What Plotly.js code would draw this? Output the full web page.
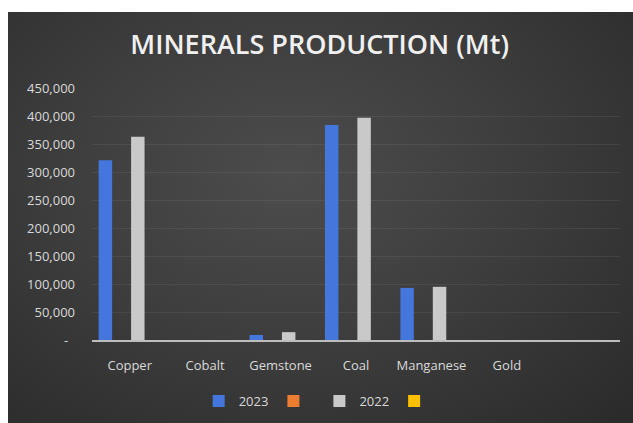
<!DOCTYPE html>
<html>
<head>
<meta charset="utf-8">
<script src="https://cdn.plot.ly/plotly-3.0.1.min.js"></script>
<style>
  html, body { margin: 0; padding: 0; background: #ffffff; }
  #wrap { position: relative; width: 633px; height: 423px; overflow: hidden; }
  #bg { position: absolute; left: 8px; top: 12px; width: 625px; height: 411px;
        background: radial-gradient(ellipse at 45% 40%, #4c4c4c 0%, #3e3e3e 45%, #2a2a2a 100%); }
  #chart { position: absolute; left: 0; top: 0; width: 633px; height: 423px; }
</style>
</head>
<body>
<div id="wrap"><div id="bg"></div><div id="chart"></div></div>
<script>
const categories = ["Copper", "Cobalt", "Gemstone", "Coal", "Manganese", "Gold"];
const series2023 = [321000, null, 9000, 384000, 93000, null];
const seriesOrange = [null, null, null, null, null, null];
const series2022 = [363000, null, 14000, 397000, 95000, null];
const seriesYellow = [null, null, null, null, null, null];
const yTickVals = [0, 50000, 100000, 150000, 200000, 250000, 300000, 350000, 400000, 450000];
const yTickText = ["-\u00a0\u00a0", "50,000", "100,000", "150,000", "200,000", "250,000", "300,000", "350,000", "400,000", "450,000"];

const font = "'Open Sans', 'DejaVu Sans', sans-serif";
const traces = [
  {type: "bar", x: categories, y: series2023, name: "2023", marker: {color: "#4476dc"}},
  {type: "bar", x: categories, y: seriesOrange, name: " ", marker: {color: "#ed7d31"}, legendwidth: 1},
  {type: "bar", x: categories, y: series2022, name: "2022", marker: {color: "#c9c9c9"}},
  {type: "bar", x: categories, y: seriesYellow, name: " ", marker: {color: "#ffc000"}, legendwidth: 1}
];
const layout = {
  width: 633, height: 423,
  paper_bgcolor: "rgba(0,0,0,0)", plot_bgcolor: "rgba(0,0,0,0)",
  margin: {l: 92, r: 13, t: 88, b: 83},
  barmode: "group", bargap: 0.14, bargroupgap: 0.17,
  title: {text: "MINERALS PRODUCTION (Mt)", xref: "container", x: 0.505, xanchor: "center",
          yref: "container", y: 1 - 45/423, yanchor: "middle",
          font: {family: font, size: 27, color: "#f0f0f0", weight: 600}},
  xaxis: {type: "category", range: [-0.5, 6.5], showgrid: false, zeroline: false,
          showline: true, linecolor: "#bdbdbd", linewidth: 2,
          ticks: "", ticklabelstandoff: 12,
          tickfont: {family: font, size: 13, color: "#d9d9d9"}, fixedrange: true},
  yaxis: {range: [0, 450000], tickmode: "array", tickvals: yTickVals, ticktext: yTickText,
          showgrid: true, gridcolor: "rgba(255,255,255,0.07)", gridwidth: 1,
          zeroline: false, showline: false, ticks: "", ticklabelstandoff: 16,
          tickfont: {family: font, size: 13, color: "#d9d9d9"}, fixedrange: true},
  showlegend: true,
  legend: {orientation: "h", x: 0.505, xref: "container", xanchor: "center",
           y: 1 - 401/423, yref: "container", yanchor: "middle",
           font: {family: font, size: 13, color: "#d9d9d9"},
           itemwidth: 30, traceorder: "normal", bgcolor: "rgba(0,0,0,0)"}
};
Plotly.newPlot("chart", traces, layout, {displayModeBar: false, staticPlot: true});
</script>
</body>
</html>
